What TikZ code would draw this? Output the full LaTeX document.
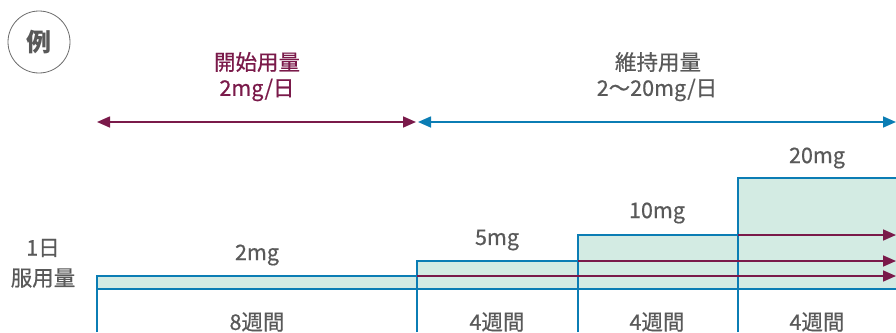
\documentclass[tikz,border=0pt]{standalone}
\usepackage{fontspec}
\setmainfont{Noto Sans CJK JP}
\newfontfamily\medfont[FakeBold=0.6]{Noto Sans CJK JP}
\usetikzlibrary{arrows.meta}
\definecolor{wine}{HTML}{7A1A4A}
\definecolor{skyblue}{HTML}{0B7DB4}
\definecolor{mint}{HTML}{D3EBE3}
\definecolor{txtgray}{HTML}{595959}
\tikzset{
  lbl/.style={text=txtgray, font=\medfont\fontsize{21.5}{24}\selectfont, inner sep=0pt},
  winelbl/.style={text=wine, font=\medfont\fontsize{21.5}{24}\selectfont, inner sep=0pt},
  bluedim/.style={draw=skyblue, line width=1.6pt, {Triangle[length=13pt,width=11pt]}-{Triangle[length=13pt,width=11pt]}},
  winedim/.style={draw=wine, line width=1.6pt, {Triangle[length=13pt,width=11pt]}-{Triangle[length=13pt,width=11pt]}},
  winearr/.style={draw=wine, line width=1.6pt, -{Triangle[length=13pt,width=11pt]}},
  outline/.style={draw=skyblue, line width=2pt},
}
\begin{document}
\begin{tikzpicture}[x=1pt,y=-1pt]
\useasboundingbox (0,0) rectangle (896,332);
% example badge
\node[circle, draw=txtgray!90, line width=0.8pt, minimum size=62pt, inner sep=0pt, text=txtgray, font=\fontsize{25}{28}\selectfont\bfseries] (ex) at (39,42) {例};
% headings
\node[winelbl] (h1a) at (257,62) {開始用量};
\node[winelbl] (h1b) at (257,90) {2mg/日};
\node[lbl] (h2a) at (658,62) {維持用量};
\node[lbl] (h2b) at (657,90) {2〜20mg/日};
% range arrows
\coordinate (a1) at (97,122);
\coordinate (a2) at (416,122);
\coordinate (b1) at (418,122);
\coordinate (b2) at (896,122);
\draw[winedim] (a1) -- (a2);
\draw[bluedim] (b1) -- (b2);
% steps fill
\fill[mint] (97,289) -- (97,276) -- (417,276) -- (417,261) -- (578,261) -- (578,235) -- (738,235) -- (738,178) -- (896,178) -- (896,289) -- cycle;
% outlines
\coordinate (s0) at (97,276);
\coordinate (s1) at (417,261);
\coordinate (s2) at (578,235);
\coordinate (s3) at (738,178);
\coordinate (e0) at (896,289);
\draw[outline] (97,332) -- (s0) -- (417,276);
\draw[outline] (417,332) -- (s1) -- (578,261);
\draw[outline] (578,332) -- (s2) -- (738,235);
\draw[outline] (738,332) -- (s3) -- (896,178);
\draw[outline] (97,289) -- (e0);
% wine arrows
\coordinate (w0) at (417,276);
\coordinate (w1) at (578,261);
\coordinate (w2) at (738,235);
\coordinate (t0) at (896,276);
\coordinate (t1) at (896,261);
\coordinate (t2) at (896,235);
\draw[winearr] (w0) -- (t0);
\draw[winearr] (w1) -- (t1);
\draw[winearr] (w2) -- (t2);
% labels
\node[lbl] (d1) at (43,248) {1日};
\node[lbl] (d2) at (43,278) {服用量};
\node[lbl] (m2) at (257,255) {2mg};
\node[lbl] (m5) at (497,240) {5mg};
\node[lbl] (m10) at (657,213) {10mg};
\node[lbl] (m20) at (817,158) {20mg};
\node[lbl] (w8) at (257,322) {8週間};
\node[lbl] (w4a) at (497,322) {4週間};
\node[lbl] (w4b) at (657,322) {4週間};
\node[lbl] (w4c) at (817,322) {4週間};
\end{tikzpicture}
\end{document}
